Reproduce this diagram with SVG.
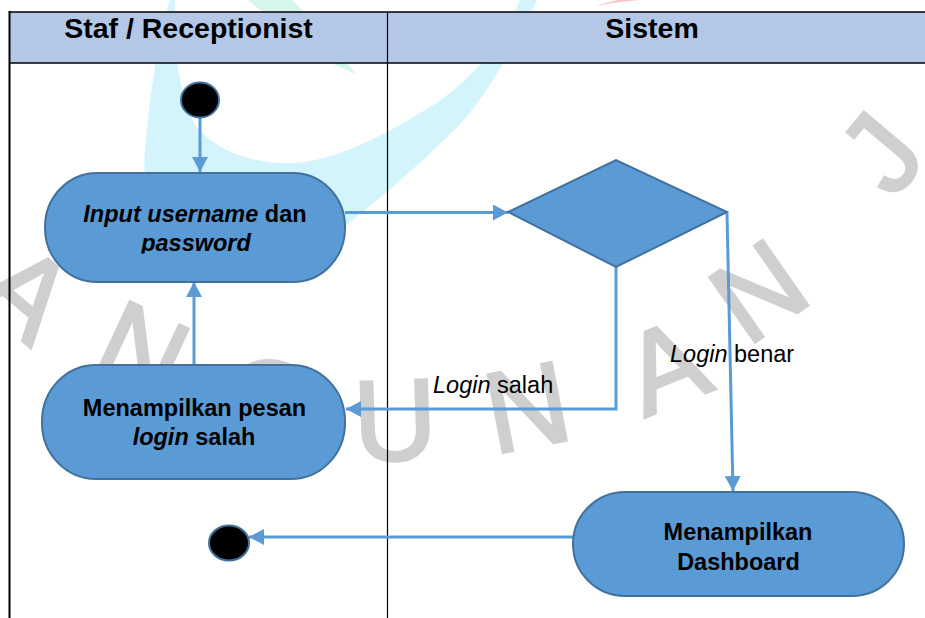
<svg xmlns="http://www.w3.org/2000/svg" width="925" height="618" viewBox="0 0 925 618">
  <style>
    .hdr { font-family: "Liberation Sans", Arial, sans-serif; font-weight: bold; font-size: 28.5px; fill: #000; }
    .ntx { font-family: "Liberation Sans", Arial, sans-serif; font-weight: bold; font-size: 23.5px; fill: #000; }
    .lbl { font-family: "Liberation Sans", Arial, sans-serif; font-size: 23.5px; fill: #000; }
    .it { font-style: italic; }
    .node { fill: #5b9bd5; stroke: #41719c; stroke-width: 2; }
    .dot { fill: #000; stroke: #41719c; stroke-width: 2; }
    .edge { fill: none; stroke: #5b9bd5; stroke-width: 3; }
    .wm { font-family: "Liberation Sans", Arial, sans-serif; font-size: 115px; fill: #cfcfcf; stroke: #cfcfcf; stroke-width: 3; }
  </style>
  <defs>
    <marker id="arrow" markerUnits="userSpaceOnUse" markerWidth="16" markerHeight="16" viewBox="0 0 16 16" refX="15" refY="8" orient="auto">
      <path d="M0,0 L15,8 L0,16 Z" fill="#5b9bd5"/>
    </marker>
    <clipPath id="clipInput">
      <rect x="45" y="173" width="300" height="80.5"/>
    </clipPath>
  </defs>

  <rect width="925" height="618" fill="#fff"/>

  <!-- background watermark -->
  <g id="watermark">
    <path d="M170,0 C160,30 150,90 145,150 C140,200 160,245 220,256 C270,262 320,245 350,222 C385,195 430,155 462,122 C490,90 515,45 537,0 L520,0 C505,40 470,85 420,113 C380,138 330,162 293,163 C250,164 215,150 195,125 C178,95 173,40 175,0 Z" fill="#d4f4fc"/>
    <path d="M248,0 L292,0 C315,25 338,50 356,74 C335,66 315,55 300,40 C280,25 262,12 248,0 Z" fill="#d6f6ec"/>
    <path d="M596,6 C610,3 625,1 640,0 L618,0 C610,2 602,4 596,6 Z" fill="#f7c2c2"/>
    <text class="wm" text-anchor="middle" transform="translate(28,292) rotate(40)" y="41">A</text>
    <text class="wm" text-anchor="middle" transform="translate(143,350) rotate(25)" y="41">N</text>
    <text class="wm" text-anchor="middle" transform="translate(270,400) rotate(10)" y="41">G</text>
    <text class="wm" text-anchor="middle" transform="translate(395,419) rotate(-2)" y="41">U</text>
    <text class="wm" text-anchor="middle" transform="translate(527,406) rotate(-11)" y="41">N</text>
    <text class="wm" text-anchor="middle" transform="translate(665,365) rotate(-22)" y="41">A</text>
    <text class="wm" text-anchor="middle" transform="translate(758,290) rotate(-35)" y="41">N</text>
    <text class="wm" text-anchor="middle" transform="translate(880,152) rotate(-50)" y="41">J</text>
  </g>

  <!-- swimlane table -->
  <g id="lanes">
    <rect x="9" y="12" width="916" height="51" fill="#b4c7e7"/>
    <line x1="9" y1="12" x2="925" y2="12" stroke="#000" stroke-width="1.5"/>
    <line x1="9" y1="63" x2="925" y2="63" stroke="#000" stroke-width="1.5"/>
    <line x1="9.5" y1="11" x2="9.5" y2="618" stroke="#000" stroke-width="2"/>
    <line x1="387.5" y1="12" x2="387.5" y2="618" stroke="#000" stroke-width="1.2"/>
    <text class="hdr" x="188.5" y="38" text-anchor="middle">Staf / Receptionist</text>
    <text class="hdr" x="652" y="38" text-anchor="middle">Sistem</text>
  </g>

  <!-- connectors -->
  <g id="connectors">
    <path class="edge" d="M200,118 L200,172" marker-end="url(#arrow)"/>
    <path class="edge" d="M345,212.5 L508,212.5" marker-end="url(#arrow)"/>
    <path class="edge" d="M616,267 L616,409 L346,409" marker-end="url(#arrow)"/>
    <path class="edge" d="M727,213 L733,491" marker-end="url(#arrow)"/>
    <path class="edge" d="M194,365 L194,282" marker-end="url(#arrow)"/>
    <path class="edge" d="M574,537 L249,537" marker-end="url(#arrow)"/>
    <text class="lbl" x="433" y="393"><tspan class="it">Login</tspan> salah</text>
    <text class="lbl" x="670" y="362"><tspan class="it">Login</tspan> benar</text>
  </g>

  <g id="start">
    <ellipse class="dot" cx="200" cy="100" rx="19" ry="17.5"/>
  </g>

  <g id="input-login">
    <rect class="node" x="45" y="173" width="300" height="109" rx="52" ry="54"/>
    <g clip-path="url(#clipInput)">
      <text class="ntx" x="195" y="222" text-anchor="middle"><tspan class="it">Input username</tspan> dan</text>
      <text class="ntx it" x="196" y="251" text-anchor="middle">password</text>
    </g>
  </g>

  <g id="check-login">
    <polygon class="node" points="508,212 616,160 727,212 616,267"/>
  </g>

  <g id="show-error">
    <rect class="node" x="42" y="365" width="303" height="114" rx="54" ry="56"/>
    <text class="ntx" x="194.5" y="415.5" text-anchor="middle">Menampilkan pesan</text>
    <text class="ntx" x="194" y="445" text-anchor="middle"><tspan class="it">login</tspan> salah</text>
  </g>

  <g id="show-dashboard">
    <rect class="node" x="573" y="492" width="331" height="104" rx="52" ry="52"/>
    <text class="ntx" x="738" y="540" text-anchor="middle">Menampilkan</text>
    <text class="ntx" x="738.5" y="570" text-anchor="middle">Dashboard</text>
  </g>

  <g id="end">
    <ellipse class="dot" cx="229" cy="543" rx="20" ry="17.5"/>
  </g>
</svg>
